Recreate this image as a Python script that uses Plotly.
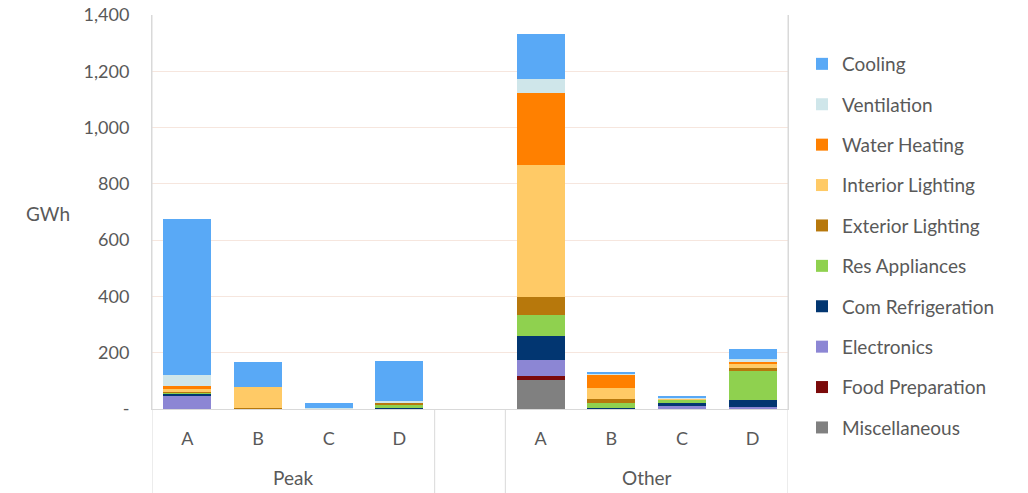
import plotly.graph_objects as go

# ---- data ----
groups = ["Peak", "Other"]
letters = ["A", "B", "C", "D"]
gap_key = " "

series_names = ["Miscellaneous", "Food Preparation", "Electronics", "Com Refrigeration",
                "Res Appliances", "Exterior Lighting", "Interior Lighting",
                "Water Heating", "Ventilation", "Cooling"]

misc_peak = [0, 0, 0, 0];          misc_other = [103, 0, 0, 3]
food_peak = [0, 0, 0, 0];          food_other = [14, 0, 0, 0]
elec_peak = [45, 0, 0, 0];         elec_other = [57, 0, 9, 5]
comref_peak = [10, 0, 0, 2];       comref_other = [85, 5, 12, 25]
resapp_peak = [2, 0, 0, 12];       resapp_other = [75, 15, 12, 102]
extlight_peak = [5, 5, 0, 8];      extlight_other = [63, 15, 0, 12]
intlight_peak = [9, 72, 0, 0];     intlight_other = [470, 38, 3, 12]
water_peak = [11, 0, 0, 0];        water_other = [256, 50, 0, 8]
vent_peak = [40, 0, 3, 8];         vent_other = [48, 2, 6, 12]
cool_peak = [553, 91, 20, 140];    cool_other = [161, 3, 4, 35]

peak_values = [misc_peak, food_peak, elec_peak, comref_peak, resapp_peak,
               extlight_peak, intlight_peak, water_peak, vent_peak, cool_peak]
other_values = [misc_other, food_other, elec_other, comref_other, resapp_other,
                extlight_other, intlight_other, water_other, vent_other, cool_other]

colors = ["#808080", "#7B0A0A", "#8C86D4", "#023671", "#8FD14F",
          "#B7780C", "#FFCA66", "#FF8000", "#CFE6EA", "#59A9F6"]

y_tickvals = [0, 200, 400, 600, 800, 1000, 1200, 1400]
y_ticktext = ["-", "200", "400", "600", "800", "1,000", "1,200", "1,400"]

# ---- categories ----
cat_keys = [f"{groups[0]} {l}" for l in letters] + [gap_key] + [f"{groups[1]} {l}" for l in letters]
cat_text = letters + [""] + letters

FONT = "Lato"
GREY = "#595959"

fig = go.Figure()
n = len(series_names)
for i, (name, pv, ov, col) in enumerate(zip(series_names, peak_values, other_values, colors)):
    fig.add_trace(go.Bar(
        name=name, x=cat_keys, y=pv + [None] + ov,
        marker=dict(color=col, line=dict(width=0)),
        legendgroup=name, legendrank=n - i,
    ))

plot_h = 493 - 15 - 84
below = -84 / plot_h

shapes = []
for xv in [-0.5, 3.5, 4.5, 8.5]:
    shapes.append(dict(type="line", xref="x", yref="paper", x0=xv, x1=xv,
                       y0=below, y1=1 if xv in (-0.5, 8.5) else 0,
                       line=dict(color="#D9D9D9", width=1)))

annotations = [
    dict(text="GWh", xref="paper", yref="paper", x=(48 - 152) / 636, y=(409 - 213) / plot_h,
         showarrow=False, xanchor="center", yanchor="middle",
         font=dict(family=FONT, size=19, color=GREY)),
    dict(text=groups[0], xref="x", yref="paper", x=1.5, y=(409 - 478) / plot_h,
         showarrow=False, xanchor="center", yanchor="middle",
         font=dict(family=FONT, size=19, color=GREY)),
    dict(text=groups[1], xref="x", yref="paper", x=6.5, y=(409 - 478) / plot_h,
         showarrow=False, xanchor="center", yanchor="middle",
         font=dict(family=FONT, size=19, color=GREY)),
]

fig.update_layout(
    width=1028, height=493,
    margin=dict(l=152, r=240, t=15, b=84, autoexpand=False),
    paper_bgcolor="white", plot_bgcolor="white",
    barmode="stack", bargap=0.32,
    font=dict(family=FONT, size=18, color=GREY),
    showlegend=True,
    legend=dict(x=(802 - 152) / 636, y=(409 - 45) / plot_h, xanchor="left", yanchor="top",
                traceorder="grouped", tracegroupgap=12.7,
                font=dict(family=FONT, size=19, color=GREY),
                itemwidth=30, bgcolor="rgba(0,0,0,0)", maxheight=493),
    xaxis=dict(type="category", categoryorder="array", categoryarray=cat_keys,
               tickvals=cat_keys, ticktext=cat_text, range=[-0.5, 8.5],
               showline=True, linecolor="#D9D9D9", linewidth=1, mirror=False,
               showgrid=False, ticks="", ticklabelstandoff=13,
               tickfont=dict(family=FONT, size=18, color=GREY)),
    yaxis=dict(range=[0, 1400], tickvals=y_tickvals, ticktext=y_ticktext,
               showgrid=True, gridcolor="#F6E6DE", gridwidth=1,
               zeroline=False, showline=True, linecolor="#D9D9D9", mirror=True,
               ticks="", ticklabelstandoff=18,
               tickfont=dict(family=FONT, size=18, color=GREY)),
    shapes=shapes, annotations=annotations,
)

fig.write_html("out.html")
